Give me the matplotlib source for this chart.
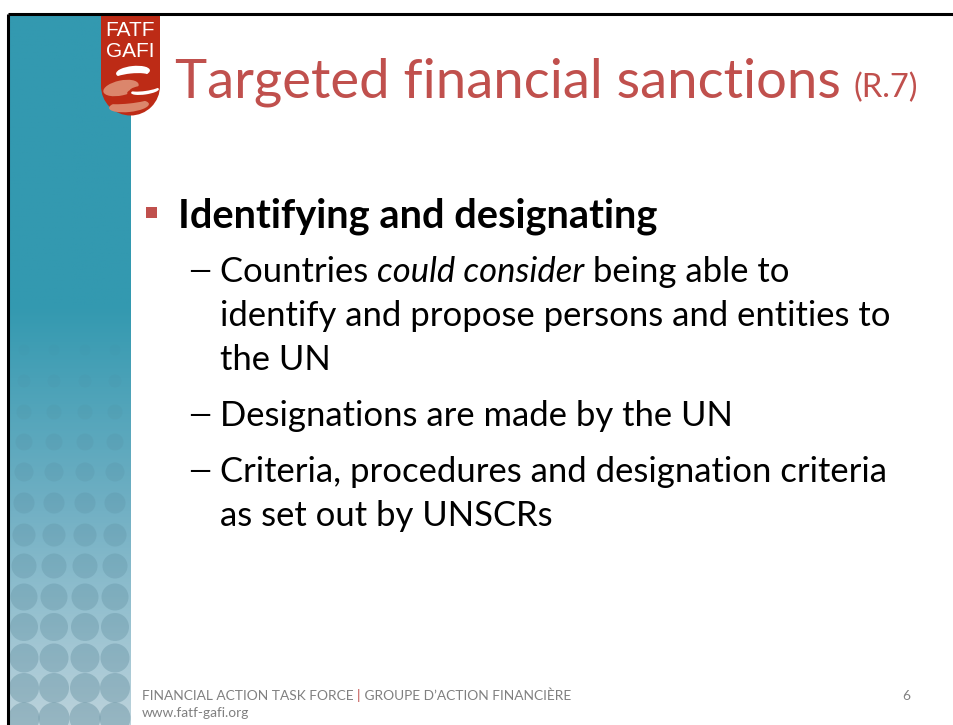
import numpy as np
import matplotlib
matplotlib.use('Agg')
import matplotlib.pyplot as plt
from matplotlib.patches import Rectangle, Wedge, Circle, Ellipse
from matplotlib.colors import LinearSegmentedColormap

# slide content
title = 'Targeted financial sanctions'
title_ref = '(R.7)'
heading = 'Identifying and designating'
# each sub bullet: list of lines, each line a list of (text, style) pieces
sub_bullets = [
    [[('Countries ', 'normal'), ('could consider', 'italic'), (' being able to', 'normal')],
     [('identify and propose persons and entities to', 'normal')],
     [('the UN', 'normal')]],
    [[('Designations are made by the UN', 'normal')]],
    [[('Criteria, procedures and designation criteria', 'normal')],
     [('as set out by UNSCRs', 'normal')]],
]
footer_left = 'FINANCIAL ACTION TASK FORCE'
footer_right = 'GROUPE D\u2019ACTION FINANCI\u00c8RE'
footer_url = 'www.fatf-gafi.org'
page_no = '6'
logo_lines = ['FATF', 'GAFI']

red = '#C0504D'
grey = '#808080'
font = 'Lato'

fig = plt.figure(figsize=(9.54, 7.25), dpi=100)
ax = fig.add_axes([0, 0, 1, 1])
ax.set_xlim(0, 954)
ax.set_ylim(725, 0)
ax.axis('off')

# side bar with gradient
grad = np.linspace(0, 1, 256).reshape(-1, 1)
cmap = LinearSegmentedColormap.from_list('side', [(0, '#3399B0'), (0.41, '#3399B0'),
                                                  (0.7, '#72B0C4'), (1, '#BDD3DC')])
ax.imshow(grad, cmap=cmap, extent=(9, 131, 725, 15), aspect='auto', zorder=1)

# dots
col_x = [24, 54, 85, 115]
row_y = [350, 381, 412, 442, 472, 503, 535, 566, 597, 627, 658, 688, 718]
row_r = [5.5, 6.5, 7.5, 8.5, 9.5, 10.5, 11.5, 12.5, 13.5, 14, 14.5, 15, 15.5]
clip = Rectangle((9, 15), 122, 710, transform=ax.transData)
for k, (y, r) in enumerate(zip(row_y, row_r)):
    a = 0.05 + 0.3 * k / (len(row_y) - 1)
    for x in col_x:
        c = Circle((x, y), r, color='#4F7F91', alpha=a, lw=0, zorder=2)
        ax.add_patch(c)
        c.set_clip_path(clip)

# slide border
ax.plot([8, 8], [14, 725], color='black', lw=2.2, zorder=5, solid_capstyle='butt')
ax.plot([8, 954], [14, 14], color='black', lw=2.2, zorder=5, solid_capstyle='butt')

# logo
logo_red = '#BD2B16'
salmon = '#DB866C'
ax.add_patch(Rectangle((101, 15), 59, 71, color=logo_red, lw=0, zorder=3))
ax.add_patch(Wedge((130.5, 86), 29.5, 0, 180, color=logo_red, lw=0, zorder=3))
ax.text(130.5, 36, logo_lines[0], color='white', fontsize=15, family='Liberation Sans',
        ha='center', va='baseline', zorder=4)
ax.text(130.5, 57, logo_lines[1], color='white', fontsize=15, family='Liberation Sans',
        ha='center', va='baseline', zorder=4)
ax.add_patch(Ellipse((133, 72), 34, 12, angle=-6, color='white', lw=0, zorder=4))
ax.add_patch(Ellipse((131, 77.5), 36, 8, angle=-6, color=logo_red, lw=0, zorder=4))
ax.add_patch(Ellipse((121, 88), 36, 15, angle=-12, color=salmon, lw=0, zorder=4))
ax.add_patch(Ellipse((140, 91), 26, 8, angle=-10, color=logo_red, lw=0, zorder=4))
ax.add_patch(Ellipse((145, 91), 28, 7, angle=-8, color='white', lw=0, zorder=4))
ax.add_patch(Ellipse((145, 88), 30, 6, angle=-8, color=logo_red, lw=0, zorder=4))
ax.add_patch(Ellipse((129, 106), 40, 12, angle=-6, color=salmon, lw=0, zorder=4))
ax.add_patch(Ellipse((129, 101), 40, 5, angle=-6, color=logo_red, lw=0, zorder=4))

fig.canvas.draw()
renderer = fig.canvas.get_renderer()
inv = ax.transData.inverted()


def run(x, y, pieces, size, color='black', weight='normal'):
    # draws a row of text pieces one after the other on one baseline
    for txt, style in pieces:
        t = ax.text(x, y, txt, fontsize=size, family=font, style=style, weight=weight,
                    color=color, ha='left', va='baseline', zorder=6)
        bb = t.get_window_extent(renderer)
        x = inv.transform((bb.x1, bb.y0))[0]
    return x


# title
x_end = run(175, 97, [(title, 'normal')], 39.2, color=red)
run(x_end + 13, 97, [(title_ref, 'normal')], 23.5, color=red)

# heading with square bullet
ax.add_patch(Rectangle((146, 207), 11, 11, color=red, lw=0, zorder=6))
run(178, 227, [(heading, 'normal')], 28.7, weight='bold')

# sub bullets
y = 282
for lines in sub_bullets:
    ax.text(188, y - 2, '\u2014', fontsize=21, family=font, ha='left', va='baseline', zorder=6)
    for line in lines:
        run(220, y, line, 24.9)
        y += 44
    y += 12

# footer
fx = run(142, 700, [(footer_left + ' ', 'normal')], 9.9, color=grey)
fx = run(fx, 700, [('|', 'normal')], 9.9, color=red)
run(fx, 700, [(' ' + footer_right, 'normal')], 9.9, color=grey)
run(142, 717, [(footer_url, 'normal')], 9.9, color=grey)
ax.text(910, 700, page_no, fontsize=9.9, family=font, color=grey, ha='right', va='baseline')

fig.savefig('out.png', dpi=100, facecolor='white')
